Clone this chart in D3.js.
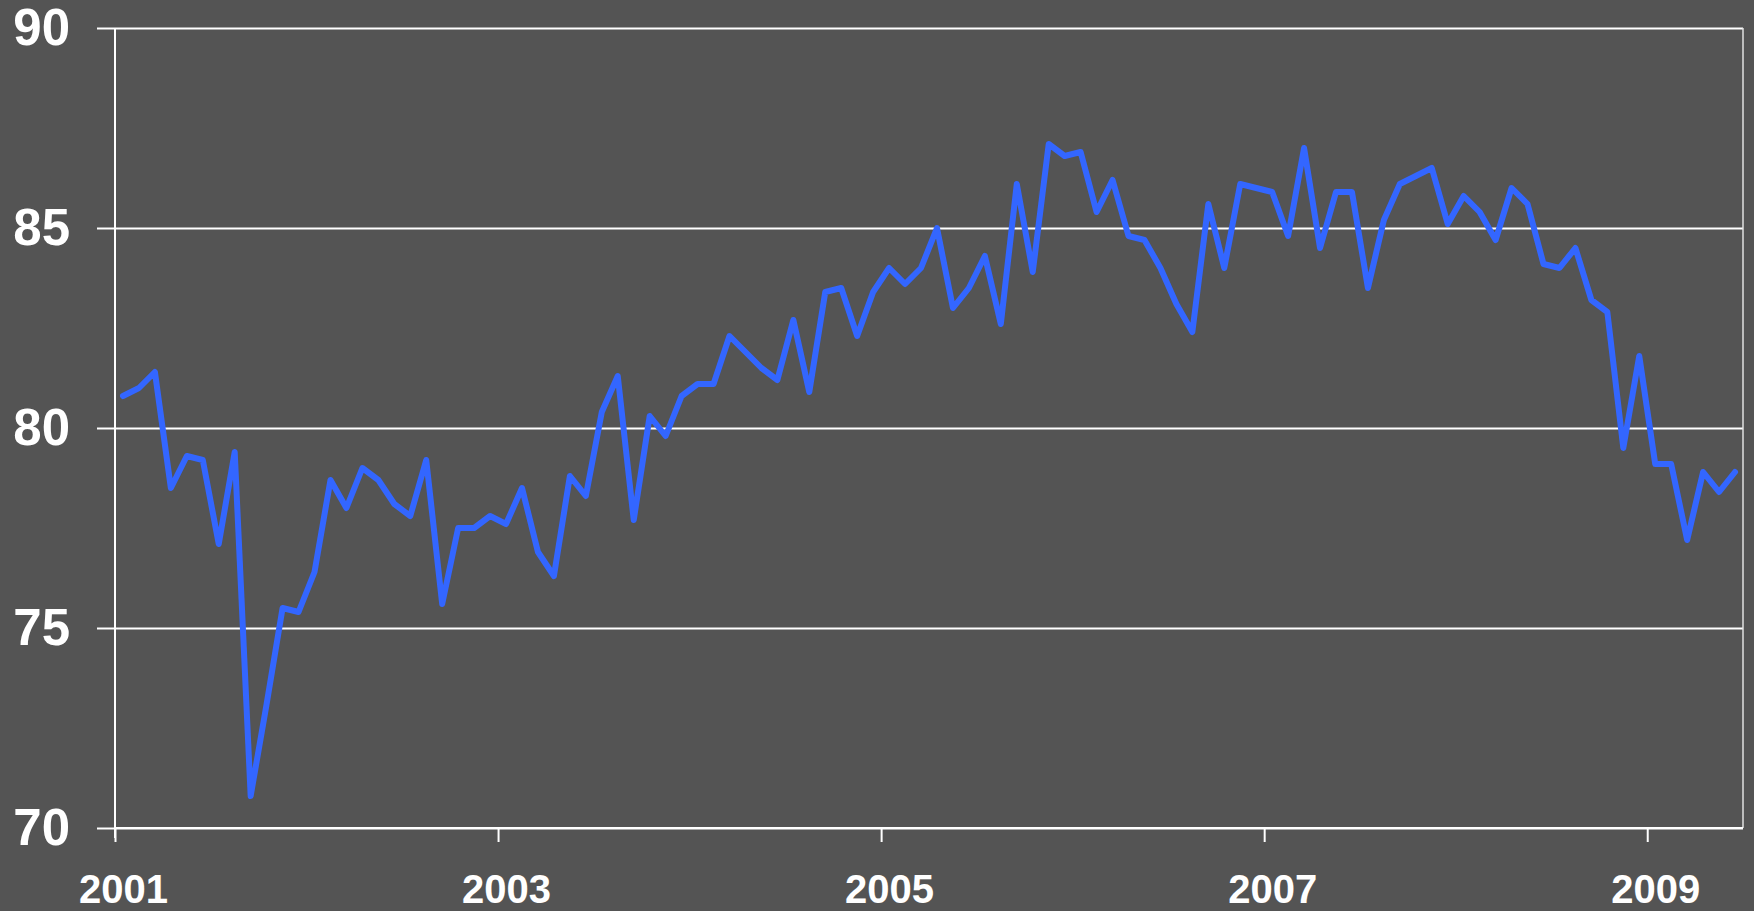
<!DOCTYPE html>
<html>
<head>
<meta charset="utf-8">
<script src="https://cdn.jsdelivr.net/npm/d3@7"></script>
<style>
  html, body { margin: 0; padding: 0; background: #545454; }
  svg { display: block; }
  .axis text { font-family: 'Liberation Sans', Arial, sans-serif; font-weight: bold; fill: #fff; }
</style>
</head>
<body>
<div id="chart"></div>
<script>
// Monthly index, Jan 2001 - Jun 2009
const values = [
  80.8, 81.0, 81.4, 78.5, 79.3, 79.2, 77.1, 79.4, 70.8, 73.1, 75.5, 75.4,
  76.4, 78.7, 78.0, 79.0, 78.7, 78.1, 77.8, 79.2, 75.6, 77.5, 77.5, 77.8,
  77.6, 78.5, 76.9, 76.3, 78.8, 78.3, 80.4, 81.3, 77.7, 80.3, 79.8, 80.8,
  81.1, 81.1, 82.3, 81.9, 81.5, 81.2, 82.7, 80.9, 83.4, 83.5, 82.3, 83.4,
  84.0, 83.6, 84.0, 85.0, 83.0, 83.5, 84.3, 82.6, 86.1, 83.9, 87.1, 86.8,
  86.9, 85.4, 86.2, 84.8, 84.7, 84.0, 83.1, 82.4, 85.6, 84.0, 86.1, 86.0,
  85.9, 84.8, 87.0, 84.5, 85.9, 85.9, 83.5, 85.2, 86.1, 86.3, 86.5, 85.1,
  85.8, 85.4, 84.7, 86.0, 85.6, 84.1, 84.0, 84.5, 83.2, 82.9, 79.5, 81.8,
  79.1, 79.1, 77.2, 78.9, 78.4, 78.9
];
const startYear = 2001;
const yearTicks = [2001, 2003, 2005, 2007, 2009];
const yTicks = [70, 75, 80, 85, 90];

const W = 1754, H = 911;
const margin = { top: 28, right: 11, bottom: 83, left: 115 };
const width = W - margin.left - margin.right;
const height = H - margin.top - margin.bottom;

const svg = d3.select('#chart').append('svg')
  .attr('width', W)
  .attr('height', H);

svg.append('rect').attr('width', W).attr('height', H).attr('fill', '#545454');

const g = svg.append('g')
  .attr('transform', `translate(${margin.left},${margin.top})`);

// one slot per month, points sit in the middle of their slot
const x = d3.scaleLinear().domain([0, values.length]).range([0, width]);
const y = d3.scaleLinear().domain([70, 90]).range([height, 0]);
const slot = x(1) - x(0);

// gridlines
g.append('g')
  .call(d3.axisLeft(y).tickValues(yTicks).tickSize(-width).tickFormat(''))
  .call((s) => s.select('.domain').remove())
  .selectAll('line')
  .attr('stroke', '#fff')
  .attr('stroke-width', 2);

// plot border on the right
g.append('line')
  .attr('x1', width).attr('x2', width)
  .attr('y1', 0).attr('y2', height)
  .attr('stroke', '#e0e0e0')
  .attr('stroke-width', 1.5);

// y axis
const yAxis = g.append('g')
  .attr('class', 'axis')
  .call(d3.axisLeft(y).tickValues(yTicks).tickSize(18).tickPadding(27));
yAxis.selectAll('line, path').attr('stroke', '#fff').attr('stroke-width', 2);
yAxis.select('.domain').attr('d', `M0,0V${height + 10}`);
yAxis.selectAll('text').style('font-size', '51px');

// x axis - ticks at year boundaries, labels over the first month
const xAxis = g.append('g')
  .attr('class', 'axis')
  .attr('transform', `translate(0,${height})`)
  .call(
    d3.axisBottom(x)
      .tickValues(yearTicks.map((yr) => (yr - startYear) * 12))
      .tickFormat((d) => startYear + d / 12)
      .tickSize(14)
      .tickPadding(33)
  );
xAxis.selectAll('line, path').attr('stroke', '#fff').attr('stroke-width', 2);
xAxis.select('.domain').attr('d', `M0,0H${width}`);
xAxis.selectAll('text')
  .attr('dx', slot / 2)
  .style('font-size', '40px');

// series line
const line = d3.line()
  .x((d, i) => x(i + 0.5))
  .y((d) => y(d));

g.append('path')
  .datum(values)
  .attr('fill', 'none')
  .attr('stroke', '#3366ff')
  .attr('stroke-width', 6)
  .attr('stroke-linejoin', 'round')
  .attr('stroke-linecap', 'round')
  .attr('d', line);
</script>
</body>
</html>
